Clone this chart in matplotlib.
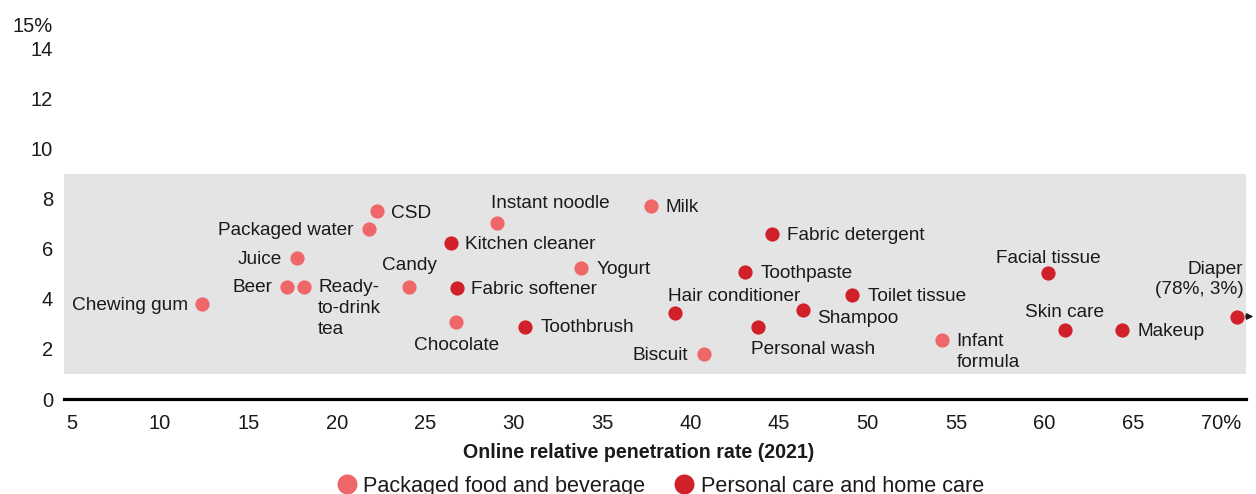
import matplotlib
matplotlib.use("Agg")
import matplotlib.pyplot as plt
import matplotlib.transforms as mtransforms
from matplotlib.lines import Line2D

plt.rcParams['font.family'] = ['Liberation Sans', 'DejaVu Sans']

# ---- data ----
names = ["Chewing gum", "Beer", "Ready-\nto-drink\ntea", "Juice", "Packaged water", "CSD",
         "Candy", "Chocolate", "Kitchen cleaner", "Fabric softener", "Instant noodle",
         "Toothbrush", "Yogurt", "Milk", "Hair conditioner", "Biscuit", "Toothpaste",
         "Fabric detergent", "Personal wash", "Shampoo", "Toilet tissue", "Infant\nformula",
         "Facial tissue", "Skin care", "Makeup", "Diaper\n(78%, 3%)"]
x_vals = [12.4, 17.2, 18.15, 17.75, 21.8, 22.25, 24.1, 26.75, 26.45, 26.8, 29.05,
          30.65, 33.8, 37.75, 39.1, 40.75, 43.05, 44.6, 43.8, 46.35, 49.1, 54.2,
          60.2, 61.15, 64.4, 70.9]
y_vals = [3.8, 4.5, 4.5, 5.65, 6.8, 7.5, 4.5, 3.1, 6.25, 4.45, 7.05,
          2.9, 5.25, 7.7, 3.45, 1.8, 5.1, 6.6, 2.9, 3.55, 4.15, 2.35,
          5.05, 2.75, 2.75, 3.3]
groups = ["food", "food", "food", "food", "food", "food",
          "food", "food", "care", "care", "food",
          "care", "food", "food", "care", "food", "care",
          "care", "care", "care", "care", "food",
          "care", "care", "care", "care"]
legend_labels = ["Packaged food and beverage", "Personal care and home care"]
x_ticks = [5, 10, 15, 20, 25, 30, 35, 40, 45, 50, 55, 60, 65, 70]
x_ticklabels = ["5", "10", "15", "20", "25", "30", "35", "40", "45", "50", "55", "60", "65", "70%"]
y_ticks = [0, 2, 4, 6, 8, 10, 12, 14, 15]
y_ticklabels = ["0", "2", "4", "6", "8", "10", "12", "14", "15%"]
band = (1, 9)

# ---- style ----
colors = {"food": "#F0676A", "care": "#D0202A"}
# label placement: (ha, va, dx_px, dy_px)
place = {
    "Chewing gum": ("right", "center", -14, 0),
    "Beer": ("right", "center", -15, 0),
    "Ready-\nto-drink\ntea": ("left", "top", 14, 7),
    "Juice": ("right", "center", -15, 0),
    "Packaged water": ("right", "center", -15, 0),
    "CSD": ("left", "center", 14, 0),
    "Candy": ("center", "center", 0, 22),
    "Chocolate": ("center", "center", 0, -23),
    "Kitchen cleaner": ("left", "center", 14, 0),
    "Fabric softener": ("left", "center", 14, 0),
    "Instant noodle": ("left", "center", -6, 21),
    "Toothbrush": ("left", "center", 15, 0),
    "Yogurt": ("left", "center", 16, 0),
    "Milk": ("left", "center", 15, 0),
    "Hair conditioner": ("left", "center", -7, 18),
    "Biscuit": ("right", "center", -16, 0),
    "Toothpaste": ("left", "center", 16, 0),
    "Fabric detergent": ("left", "center", 15, 0),
    "Personal wash": ("left", "center", -7, -22),
    "Shampoo": ("left", "center", 14, -7),
    "Toilet tissue": ("left", "center", 16, 0),
    "Infant\nformula": ("left", "top", 15, 7),
    "Facial tissue": ("center", "center", 0, 16),
    "Skin care": ("center", "center", 0, 19),
    "Makeup": ("left", "center", 15, 0),
    "Diaper\n(78%, 3%)": ("right", "bottom", 6, 18),
}

W, H = 1256, 494
fig = plt.figure(figsize=(W / 100, H / 100), dpi=100)
ax = fig.add_axes([64 / W, 95 / H, (1246 - 64) / W, (399 - 24) / H])
ax.set_xlim(4.58, 71.4)
ax.set_ylim(0, 15)

ax.axhspan(band[0], band[1], color="#E4E4E4", zorder=0, lw=0)

for g in ["food", "care"]:
    xs = [x for x, gg in zip(x_vals, groups) if gg == g]
    ys = [y for y, gg in zip(y_vals, groups) if gg == g]
    ax.scatter(xs, ys, s=105, color=colors[g], zorder=3, linewidths=0, clip_on=False)

txtcol = "#1a1a1a"
for n, x, y in zip(names, x_vals, y_vals):
    ha, va, dx, dy = place[n]
    if va == "center":
        dy -= 1.5
    ax.annotate(n, (x, y), xytext=(dx, dy), textcoords="offset pixels",
                ha=ha, va=va, fontsize=13.7, color=txtcol, linespacing=1.28,
                multialignment=ha if ha != "center" else "center",
                annotation_clip=False, zorder=4)

# arrow for Diaper
dx_, dy_ = x_vals[-1], y_vals[-1]
tip = mtransforms.offset_copy(ax.transData, fig=fig, x=19, y=0, units="dots")
ax.annotate("", xy=(dx_, dy_), xycoords=tip, xytext=(-13, 0), textcoords="offset pixels",
            arrowprops=dict(arrowstyle="-|>", color="#1a1a1a", lw=1.2, mutation_scale=9),
            annotation_clip=False, zorder=2)

for s in ["top", "right", "left"]:
    ax.spines[s].set_visible(False)
ax.spines["bottom"].set_linewidth(2.3)
ax.spines["bottom"].set_color("black")
ax.spines["bottom"].set_zorder(5)

ax.set_xticks(x_ticks)
ax.set_xticklabels(x_ticklabels)
ax.set_yticks(y_ticks)
ax.set_yticklabels(y_ticklabels)
ax.tick_params(axis="both", length=0, labelsize=14.5, labelcolor=txtcol)
ax.tick_params(axis="x", pad=11)
ax.tick_params(axis="y", pad=8)

ax.set_xlabel("Online relative penetration rate (2021)", fontsize=14.1, fontweight="bold",
              color=txtcol)
ax.xaxis.set_label_coords(0.486, -(452 - 399) / 375, transform=ax.transAxes)
ax.xaxis.label.set_va("center")

handles = [Line2D([], [], marker="o", ls="", markersize=14.4, color=colors[g], markeredgewidth=0)
           for g in ["food", "care"]]
fig.legend(handles, legend_labels, loc="center", bbox_to_anchor=(660 / W, 8 / H), ncol=2,
           frameon=False, fontsize=15.6, handletextpad=0.25, columnspacing=1.3,
           handlelength=1.0, labelcolor=txtcol)

fig.savefig("out.png", dpi=100)
